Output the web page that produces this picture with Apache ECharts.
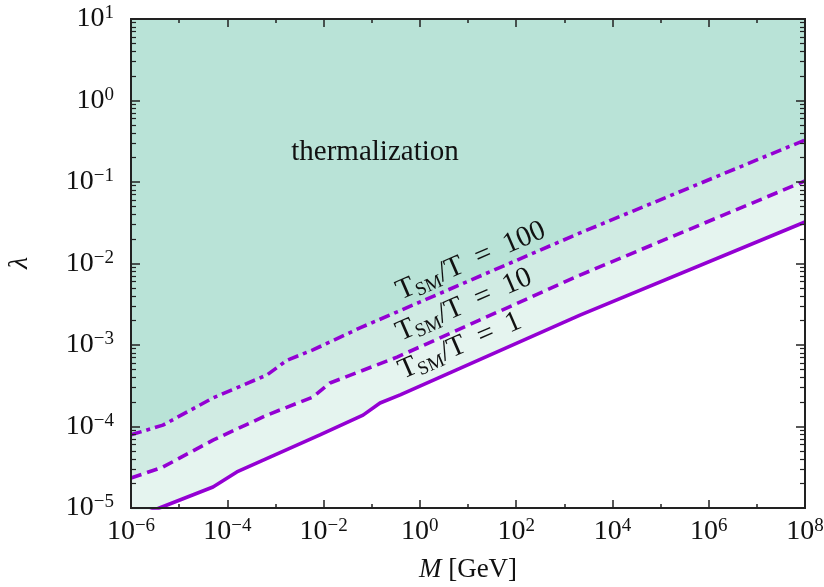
<!DOCTYPE html>
<html>
<head>
<meta charset="utf-8">
<script src="https://cdn.jsdelivr.net/npm/echarts@6/dist/echarts.min.js"></script>
<style>
  html, body { margin: 0; padding: 0; background: #fff; }
  #chart { width: 824px; height: 587px; }
</style>
</head>
<body>
<div id="chart"></div>
<script>
// T_SM/T = 1 (solid)
const massT1 = [1e-6, 4.4e-6, 5.05e-5, 1.58e-4, 8.4e-3, 0.066, 0.149, 0.39, 2120, 1e8]
const lamT1 = [7.3e-6, 1.03e-5, 1.81e-5, 2.77e-5, 7.9e-5, 1.38e-4, 1.94e-4, 2.44e-4, 2.33e-3, 3.23e-2]
// T_SM/T = 10 (dashed)
const massT10 = [1e-6, 4.6e-6, 5.05e-5, 6.7e-4, 6.0e-3, 0.0136, 0.336, 2120, 1e8]
const lamT10 = [2.33e-5, 3.18e-5, 6.8e-5, 1.38e-4, 2.3e-4, 3.42e-4, 7.1e-4, 7.2e-3, 0.103]
// T_SM/T = 100 (dash-dot)
const massT100 = [1e-6, 4.6e-6, 5.05e-5, 6.7e-4, 1.74e-3, 6.0e-3, 0.057, 2120, 1e8]
const lamT100 = [7.9e-5, 1.04e-4, 2.24e-4, 4.3e-4, 6.5e-4, 8.7e-4, 1.62e-3, 0.0237, 0.327]

const purple = '#9400d3'
const serif = '"Liberation Serif", "DejaVu Serif", serif'

function pairs(xs, ys) {
    return xs.map((x, i) => [x, ys[i]])
}

function powLabel(v) {
    let e = Math.round(Math.log10(v))
    let s = e < 0 ? '\u2212' + (-e) : '' + e
    return '{b|10}{s|' + s + '}'
}

const labelRich = {
    b: { fontFamily: serif, fontSize: 28, color: '#111', lineHeight: 30 },
    s: { fontFamily: serif, fontSize: 19, color: '#111', verticalAlign: 'top', lineHeight: 16 }
}

const axisLine = { show: true, onZero: false, lineStyle: { color: '#222', width: 2 } }

function xAxis(pos, step, len, labels) {
    return {
        type: 'log', logBase: 10, position: pos,
        min: 1e-6, max: 1e8, interval: step,
        z: 10,
        axisLine: axisLine,
        axisTick: { show: true, inside: true, length: len, lineStyle: { color: '#222', width: 1.5 } },
        axisLabel: labels ? {
            show: true, margin: 9, formatter: powLabel, rich: labelRich
        } : { show: false },
        splitLine: { show: false },
        name: labels ? '{i|M} [GeV]' : '',
        nameLocation: 'middle', nameGap: 48,
        nameTextStyle: {
            fontFamily: serif, fontSize: 27, color: '#111',
            rich: { i: { fontFamily: serif, fontSize: 27, fontStyle: 'italic', color: '#111' } }
        }
    }
}

function yAxis(pos, labels) {
    return {
        type: 'log', logBase: 10, position: pos,
        min: 1e-5, max: 10, interval: 1,
        z: 10,
        axisLine: axisLine,
        axisTick: { show: true, inside: true, length: 9, lineStyle: { color: '#222', width: 1.5 } },
        minorTick: { show: true, splitNumber: 9, length: 5, lineStyle: { color: '#222', width: 1.2 } },
        axisLabel: labels ? {
            show: true, margin: 17, formatter: powLabel, rich: labelRich
        } : { show: false },
        splitLine: { show: false }
    }
}

function band(name, xs, ys, color, dash) {
    return {
        name: name,
        type: 'line',
        data: pairs(xs, ys),
        showSymbol: false,
        clip: true,
        lineStyle: { color: purple, width: 3.6, type: dash },
        areaStyle: { origin: 10, color: color, opacity: 1 },
        silent: true
    }
}

const chart = echarts.init(document.getElementById('chart'), null, { renderer: 'canvas' })

function subLabel(value) {
    return '{t|T}{s|SM}{t|/T\u2002=\u2002' + value + '}'
}
const subRich = {
    t: { fontFamily: serif, fontSize: 29, fill: '#111', lineHeight: 32 },
    s: { fontFamily: serif, fontSize: 19, fill: '#111', verticalAlign: 'bottom', lineHeight: 18 }
}

function rotText(x, y, value) {
    return {
        type: 'text', x: x, y: y, rotation: 0.41, z: 100,
        style: {
            text: subLabel(value), rich: subRich,
            align: 'center', verticalAlign: 'middle',
            fontFamily: serif, fontSize: 29, fill: '#111'
        }
    }
}

chart.setOption({
    animation: false,
    grid: { left: 131, right: 19, top: 19, bottom: 79, outerBoundsMode: 'none', containLabel: false },
    xAxis: [
        xAxis('bottom', 2, 8, true),
        xAxis('bottom', 1, 4, false),
        xAxis('top', 2, 8, false),
        xAxis('top', 1, 4, false)
    ],
    yAxis: [
        yAxis('left', true),
        yAxis('right', false)
    ],
    series: [
        band('T1', massT1, lamT1, '#e5f4ef', 'solid'),
        band('T10', massT10, lamT10, '#d0ebe3', [11, 6]),
        band('T100', massT100, lamT100, '#b9e3d7', [11, 5, 4, 5])
    ],
    graphic: [
        {
            type: 'text', x: 375, y: 152, z: 100,
            style: {
                text: 'thermalization', align: 'center', verticalAlign: 'middle',
                fontFamily: serif, fontSize: 29, fill: '#111'
            }
        },
        {
            type: 'text', x: 20, y: 263, rotation: Math.PI / 2, z: 100,
            style: {
                text: '\u03bb', align: 'center', verticalAlign: 'middle',
                fontFamily: serif, fontSize: 28, fontStyle: 'italic', fill: '#111'
            }
        },
        rotText(471, 261, '100'),
        rotText(464, 305, '10'),
        rotText(460, 346, '1')
    ]
})
</script>
</body>
</html>
